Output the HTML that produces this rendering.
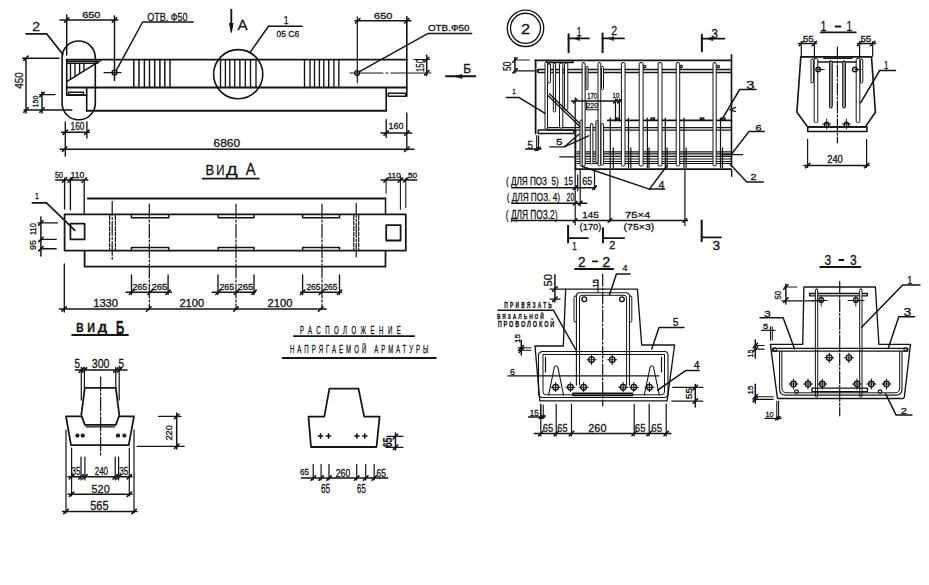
<!DOCTYPE html><html><head><meta charset="utf-8"><title>drawing</title><style>
html,body{margin:0;padding:0;background:#fff;width:929px;height:585px;overflow:hidden}
svg{display:block}
text{font-family:"Liberation Sans",sans-serif;fill:#141414;stroke:#141414}
</style></head><body>
<svg width="929" height="585" viewBox="0 0 929 585">
<g fill="none" stroke="#141414" stroke-linecap="round" stroke-linejoin="round">
<line x1="60.2" y1="20.0" x2="117.7" y2="20.0" stroke-width="1.49"/>
<line x1="64.5" y1="22.2" x2="68.9" y2="17.8" stroke-width="1.62"/>
<line x1="112.3" y1="22.2" x2="116.7" y2="17.8" stroke-width="1.62"/>
<line x1="66.7" y1="15.0" x2="66.7" y2="55.0" stroke-width="1.49"/>
<line x1="114.5" y1="16.0" x2="114.5" y2="80.4" stroke-width="1.49"/>
<text x="82.2" y="18.1" font-size="9.44" textLength="18.3" lengthAdjust="spacingAndGlyphs" font-weight="normal" stroke-width="0.3">650</text>
<text x="32.2" y="31.0" font-size="12.68" textLength="7.8" lengthAdjust="spacingAndGlyphs" font-weight="normal" stroke-width="0.3">2</text>
<polyline points="26.0,33.8 46.6,33.8 62.8,54.2" stroke-width="1.76"/>
<rect x="62.1" y="41.0" width="33.2" height="78.8" stroke-width="1.62" rx="16.5"/>
<line x1="66.7" y1="59.6" x2="406.9" y2="59.6" stroke-width="1.76"/>
<line x1="66.7" y1="87.5" x2="406.9" y2="87.5" stroke-width="1.76"/>
<line x1="66.7" y1="59.6" x2="66.7" y2="95.2" stroke-width="1.62"/>
<line x1="66.7" y1="95.2" x2="86.7" y2="95.2" stroke-width="1.49"/>
<rect x="68.6" y="92.2" width="14.9" height="2.6" stroke-width="1.35"/>
<line x1="86.7" y1="87.5" x2="86.7" y2="110.8" stroke-width="1.62"/>
<line x1="86.7" y1="110.8" x2="386.2" y2="110.8" stroke-width="1.89"/>
<line x1="386.2" y1="87.5" x2="386.2" y2="110.8" stroke-width="1.62"/>
<line x1="406.8" y1="16.8" x2="406.8" y2="96.2" stroke-width="1.62"/>
<rect x="388.2" y="93.2" width="17.4" height="3.0" stroke-width="1.35"/>
<line x1="406.8" y1="113.0" x2="406.8" y2="150.0" stroke-width="1.35"/>
<line x1="67.3" y1="61.2" x2="97.7" y2="61.2" stroke-width="1.35"/>
<line x1="67.3" y1="63.2" x2="97.7" y2="63.2" stroke-width="1.35"/>
<line x1="66.7" y1="81.6" x2="100.9" y2="60.3" stroke-width="1.49"/>
<line x1="70.5" y1="63.2" x2="70.5" y2="79.2" stroke-width="1.35"/>
<line x1="75.0" y1="63.2" x2="75.0" y2="76.4" stroke-width="1.35"/>
<line x1="79.6" y1="63.2" x2="79.6" y2="73.6" stroke-width="1.35"/>
<line x1="84.0" y1="63.2" x2="84.0" y2="70.8" stroke-width="1.35"/>
<circle cx="114.5" cy="72.6" r="2.5" stroke-width="1.35"/>
<line x1="104.0" y1="72.6" x2="121.0" y2="72.6" stroke-width="1.08"/>
<polyline points="116.3,70.3 142.6,22.0 193.2,22.0" stroke-width="1.49"/>
<text x="147.3" y="21.0" font-size="10.85" textLength="40.3" lengthAdjust="spacingAndGlyphs" font-weight="normal" stroke-width="0.3">ОТВ. Ф50</text>
<line x1="133.8" y1="59.6" x2="133.8" y2="87.5" stroke-width="1.49"/>
<line x1="139.0" y1="59.6" x2="139.0" y2="87.5" stroke-width="1.49"/>
<line x1="144.4" y1="59.6" x2="144.4" y2="87.5" stroke-width="1.49"/>
<line x1="149.5" y1="59.6" x2="149.5" y2="87.5" stroke-width="1.49"/>
<line x1="154.7" y1="59.6" x2="154.7" y2="87.5" stroke-width="1.49"/>
<line x1="159.9" y1="59.6" x2="159.9" y2="87.5" stroke-width="1.49"/>
<line x1="164.8" y1="59.6" x2="164.8" y2="87.5" stroke-width="1.49"/>
<line x1="170.0" y1="59.6" x2="170.0" y2="87.5" stroke-width="1.49"/>
<circle cx="238.2" cy="74.2" r="24.6" stroke-width="1.62"/>
<line x1="220.5" y1="59.6" x2="220.5" y2="87.5" stroke-width="1.35"/>
<line x1="225.4" y1="59.6" x2="225.4" y2="87.5" stroke-width="1.35"/>
<line x1="229.8" y1="59.6" x2="229.8" y2="87.5" stroke-width="1.35"/>
<line x1="234.7" y1="59.6" x2="234.7" y2="87.5" stroke-width="1.35"/>
<line x1="239.9" y1="59.6" x2="239.9" y2="87.5" stroke-width="1.35"/>
<line x1="245.3" y1="59.6" x2="245.3" y2="87.5" stroke-width="1.35"/>
<line x1="250.5" y1="59.6" x2="250.5" y2="87.5" stroke-width="1.35"/>
<line x1="256.0" y1="59.6" x2="256.0" y2="87.5" stroke-width="1.35"/>
<line x1="304.5" y1="59.6" x2="304.5" y2="87.5" stroke-width="1.35"/>
<line x1="310.0" y1="59.6" x2="310.0" y2="87.5" stroke-width="1.35"/>
<line x1="314.5" y1="59.6" x2="314.5" y2="87.5" stroke-width="1.35"/>
<line x1="319.4" y1="59.6" x2="319.4" y2="87.5" stroke-width="1.35"/>
<line x1="323.8" y1="59.6" x2="323.8" y2="87.5" stroke-width="1.35"/>
<line x1="328.7" y1="59.6" x2="328.7" y2="87.5" stroke-width="1.35"/>
<line x1="333.9" y1="59.6" x2="333.9" y2="87.5" stroke-width="1.35"/>
<line x1="338.8" y1="59.6" x2="338.8" y2="87.5" stroke-width="1.35"/>
<text x="283.7" y="23.7" font-size="10.70" textLength="4.8" lengthAdjust="spacingAndGlyphs" font-weight="normal" stroke-width="0.3">1</text>
<line x1="268.5" y1="26.3" x2="302.0" y2="26.3" stroke-width="1.49"/>
<text x="276.5" y="36.6" font-size="9.15" textLength="22.6" lengthAdjust="spacingAndGlyphs" font-weight="normal" stroke-width="0.3">05 С6</text>
<line x1="268.5" y1="26.3" x2="250.2" y2="52.3" stroke-width="1.49"/>
<line x1="231.3" y1="9.7" x2="231.3" y2="26.0" stroke-width="1.89"/>
<polygon points="229.6,23.5 233.0,23.5 231.3,32.3" stroke-width="1.08" fill="#141414"/>
<text x="237.5" y="30.1" font-size="15.07" textLength="10.1" lengthAdjust="spacingAndGlyphs" font-weight="normal" stroke-width="0.3">А</text>
<line x1="354.9" y1="20.8" x2="410.9" y2="20.8" stroke-width="1.49"/>
<line x1="355.5" y1="23.0" x2="359.9" y2="18.6" stroke-width="1.62"/>
<line x1="404.6" y1="23.0" x2="409.0" y2="18.6" stroke-width="1.62"/>
<line x1="357.3" y1="16.8" x2="357.3" y2="82.6" stroke-width="1.22"/>
<text x="374.0" y="18.9" font-size="8.87" textLength="18.4" lengthAdjust="spacingAndGlyphs" font-weight="normal" stroke-width="0.3">650</text>
<circle cx="357.1" cy="73.0" r="2.4" stroke-width="1.35"/>
<line x1="350.0" y1="73.0" x2="383.0" y2="73.0" stroke-width="1.08"/>
<line x1="386.0" y1="73.0" x2="388.0" y2="73.0" stroke-width="1.08"/>
<line x1="391.0" y1="73.0" x2="431.0" y2="73.0" stroke-width="1.08"/>
<polyline points="359.5,71.6 427.7,33.6 471.7,33.6" stroke-width="1.49"/>
<text x="427.9" y="30.8" font-size="8.87" textLength="41.5" lengthAdjust="spacingAndGlyphs" font-weight="normal" stroke-width="0.3">ОТВ.Ф50</text>
<line x1="426.7" y1="55.3" x2="426.7" y2="75.6" stroke-width="1.49"/>
<line x1="424.5" y1="61.7" x2="428.9" y2="57.3" stroke-width="1.62"/>
<line x1="424.5" y1="75.0" x2="428.9" y2="70.6" stroke-width="1.62"/>
<line x1="413.7" y1="59.5" x2="429.8" y2="59.5" stroke-width="1.22"/>
<text x="420.5" y="69.1" font-size="10.28" textLength="12.9" lengthAdjust="spacingAndGlyphs" text-anchor="middle" font-weight="normal" transform="rotate(-90 420.5 65.5)" stroke-width="0.3">150</text>
<line x1="445.9" y1="76.3" x2="475.2" y2="76.3" stroke-width="1.89"/>
<polygon points="455.0,76.3 462.0,74.6 462.0,78.0" stroke-width="0.81" fill="#141414"/>
<text x="463.2" y="72.8" font-size="12.82" textLength="7.9" lengthAdjust="spacingAndGlyphs" font-weight="normal" stroke-width="0.3">Б</text>
<line x1="26.0" y1="57.8" x2="26.0" y2="113.0" stroke-width="1.49"/>
<line x1="23.8" y1="60.4" x2="28.2" y2="56.0" stroke-width="1.62"/>
<line x1="23.8" y1="112.2" x2="28.2" y2="107.8" stroke-width="1.62"/>
<line x1="22.7" y1="58.2" x2="59.0" y2="58.2" stroke-width="1.35"/>
<line x1="24.0" y1="110.0" x2="71.8" y2="110.0" stroke-width="1.35"/>
<text x="19.4" y="84.3" font-size="10.85" textLength="16.5" lengthAdjust="spacingAndGlyphs" text-anchor="middle" font-weight="normal" transform="rotate(-90 19.4 80.5)" stroke-width="0.3">450</text>
<line x1="42.0" y1="92.0" x2="42.0" y2="113.0" stroke-width="1.49"/>
<line x1="39.8" y1="96.8" x2="44.2" y2="92.4" stroke-width="1.62"/>
<line x1="39.8" y1="112.2" x2="44.2" y2="107.8" stroke-width="1.62"/>
<line x1="39.5" y1="94.6" x2="55.0" y2="94.6" stroke-width="1.35"/>
<text x="35.1" y="104.1" font-size="7.32" textLength="11.9" lengthAdjust="spacingAndGlyphs" text-anchor="middle" font-weight="normal" transform="rotate(-90 35.1 101.5)" stroke-width="0.3">150</text>
<line x1="61.5" y1="132.2" x2="89.4" y2="132.2" stroke-width="1.49"/>
<line x1="63.1" y1="134.4" x2="67.5" y2="130.0" stroke-width="1.62"/>
<line x1="84.7" y1="134.4" x2="89.1" y2="130.0" stroke-width="1.62"/>
<line x1="65.3" y1="121.8" x2="65.3" y2="156.3" stroke-width="1.35"/>
<line x1="86.9" y1="121.8" x2="86.9" y2="138.0" stroke-width="1.35"/>
<text x="70.5" y="129.8" font-size="10.28" textLength="13.9" lengthAdjust="spacingAndGlyphs" font-weight="normal" stroke-width="0.3">160</text>
<line x1="380.9" y1="133.1" x2="411.7" y2="133.1" stroke-width="1.49"/>
<line x1="384.0" y1="135.3" x2="388.4" y2="130.9" stroke-width="1.62"/>
<line x1="404.6" y1="135.3" x2="409.0" y2="130.9" stroke-width="1.62"/>
<line x1="386.2" y1="119.6" x2="386.2" y2="137.6" stroke-width="1.35"/>
<text x="388.6" y="129.2" font-size="9.86" textLength="14.8" lengthAdjust="spacingAndGlyphs" font-weight="normal" stroke-width="0.3">160</text>
<line x1="60.4" y1="149.2" x2="414.0" y2="149.2" stroke-width="1.49"/>
<line x1="62.4" y1="151.4" x2="66.8" y2="147.0" stroke-width="1.62"/>
<line x1="404.6" y1="151.4" x2="409.0" y2="147.0" stroke-width="1.62"/>
<text x="213.6" y="147.0" font-size="11.27" textLength="26.5" lengthAdjust="spacingAndGlyphs" font-weight="normal" stroke-width="0.3">6860</text>
<text x="205.4" y="175.2" font-size="13.94" textLength="8.7" lengthAdjust="spacingAndGlyphs" font-weight="normal" stroke-width="0.3">В</text>
<text x="216.2" y="175.2" font-size="13.94" textLength="8.3" lengthAdjust="spacingAndGlyphs" font-weight="normal" stroke-width="0.3">И</text>
<text x="226.1" y="175.2" font-size="12.68" textLength="11.6" lengthAdjust="spacingAndGlyphs" font-weight="normal" stroke-width="0.3">Д</text>
<text x="245.7" y="174.8" font-size="16.34" textLength="9.8" lengthAdjust="spacingAndGlyphs" font-weight="normal" stroke-width="0.3">А</text>
<line x1="202.6" y1="178.7" x2="258.9" y2="178.7" stroke-width="1.76"/>
<line x1="55.5" y1="180.0" x2="87.8" y2="180.0" stroke-width="1.49"/>
<line x1="62.4" y1="182.2" x2="66.8" y2="177.8" stroke-width="1.62"/>
<line x1="68.2" y1="182.2" x2="72.6" y2="177.8" stroke-width="1.62"/>
<line x1="82.0" y1="182.2" x2="86.4" y2="177.8" stroke-width="1.62"/>
<text x="55.0" y="178.1" font-size="8.17" textLength="7.9" lengthAdjust="spacingAndGlyphs" font-weight="normal" stroke-width="0.3">50</text>
<text x="70.5" y="178.1" font-size="8.17" textLength="13.8" lengthAdjust="spacingAndGlyphs" font-weight="normal" stroke-width="0.3">110</text>
<line x1="64.6" y1="178.0" x2="64.6" y2="209.0" stroke-width="1.35"/>
<line x1="70.4" y1="178.0" x2="70.4" y2="209.7" stroke-width="1.35"/>
<line x1="84.2" y1="180.7" x2="84.2" y2="213.0" stroke-width="1.35"/>
<line x1="381.1" y1="180.0" x2="416.8" y2="180.0" stroke-width="1.49"/>
<line x1="383.9" y1="182.2" x2="388.3" y2="177.8" stroke-width="1.62"/>
<line x1="398.2" y1="182.2" x2="402.6" y2="177.8" stroke-width="1.62"/>
<line x1="403.6" y1="182.2" x2="408.0" y2="177.8" stroke-width="1.62"/>
<text x="387.7" y="177.7" font-size="8.03" textLength="13.0" lengthAdjust="spacingAndGlyphs" font-weight="normal" stroke-width="0.3">110</text>
<text x="407.9" y="177.7" font-size="8.03" textLength="9.2" lengthAdjust="spacingAndGlyphs" font-weight="normal" stroke-width="0.3">50</text>
<line x1="386.1" y1="178.0" x2="386.1" y2="193.2" stroke-width="1.08"/>
<line x1="385.5" y1="198.5" x2="385.5" y2="214.6" stroke-width="1.49"/>
<line x1="400.4" y1="176.0" x2="400.4" y2="209.2" stroke-width="1.08"/>
<line x1="405.8" y1="178.0" x2="405.8" y2="207.8" stroke-width="1.08"/>
<line x1="87.8" y1="198.5" x2="385.5" y2="198.5" stroke-width="1.76"/>
<rect x="64.6" y="214.3" width="341.2" height="36.4" stroke-width="1.76"/>
<polyline points="84.6,250.7 84.6,266.6 385.5,266.6 385.5,250.7" stroke-width="1.76"/>
<rect x="70.4" y="223.6" width="14.2" height="15.8" stroke-width="1.76"/>
<rect x="386.2" y="225.1" width="14.4" height="15.4" stroke-width="1.76"/>
<polyline points="131.4,214.6 131.4,217.8 168.8,217.8 168.8,214.6" stroke-width="1.49"/>
<polyline points="131.4,250.7 131.4,247.6 168.8,247.6 168.8,250.7" stroke-width="1.49"/>
<polyline points="218.2,214.6 218.2,217.8 254.0,217.8 254.0,214.6" stroke-width="1.49"/>
<polyline points="218.2,250.7 218.2,247.6 254.0,247.6 254.0,250.7" stroke-width="1.49"/>
<polyline points="302.6,214.6 302.6,217.8 339.5,217.8 339.5,214.6" stroke-width="1.49"/>
<polyline points="302.6,250.7 302.6,247.6 339.5,247.6 339.5,250.7" stroke-width="1.49"/>
<line x1="149.3" y1="204.0" x2="149.3" y2="309.2" stroke-width="1.22" stroke-dasharray="14,2,2,2"/>
<line x1="236.0" y1="204.0" x2="236.0" y2="309.2" stroke-width="1.22" stroke-dasharray="14,2,2,2"/>
<line x1="322.0" y1="204.0" x2="322.0" y2="309.2" stroke-width="1.22" stroke-dasharray="14,2,2,2"/>
<line x1="109.6" y1="215.5" x2="109.6" y2="250.0" stroke-width="1.22" stroke-dasharray="4,1.5"/>
<line x1="115.4" y1="215.5" x2="115.4" y2="250.0" stroke-width="1.22" stroke-dasharray="4,1.5"/>
<line x1="112.2" y1="201.3" x2="112.2" y2="261.0" stroke-width="1.22" stroke-dasharray="14,2,2,2"/>
<line x1="353.8" y1="215.5" x2="353.8" y2="250.0" stroke-width="1.22" stroke-dasharray="4,1.5"/>
<line x1="358.7" y1="215.5" x2="358.7" y2="250.0" stroke-width="1.22" stroke-dasharray="4,1.5"/>
<line x1="356.2" y1="203.3" x2="356.2" y2="256.8" stroke-width="1.22" stroke-dasharray="14,2,2,2"/>
<text x="34.9" y="198.5" font-size="9.86" textLength="4.0" lengthAdjust="spacingAndGlyphs" font-weight="normal" stroke-width="0.3">1</text>
<polyline points="32.3,202.9 46.5,202.9 74.9,230.4" stroke-width="1.62"/>
<line x1="40.9" y1="217.0" x2="40.9" y2="255.9" stroke-width="1.49"/>
<line x1="38.7" y1="225.1" x2="43.1" y2="220.7" stroke-width="1.62"/>
<line x1="38.7" y1="241.6" x2="43.1" y2="237.2" stroke-width="1.62"/>
<line x1="38.7" y1="250.9" x2="43.1" y2="246.5" stroke-width="1.62"/>
<line x1="38.0" y1="222.9" x2="57.5" y2="222.9" stroke-width="1.35"/>
<line x1="41.3" y1="239.4" x2="56.2" y2="239.4" stroke-width="1.35"/>
<line x1="41.3" y1="248.7" x2="56.2" y2="248.7" stroke-width="1.35"/>
<text x="32.4" y="232.5" font-size="9.58" textLength="11.9" lengthAdjust="spacingAndGlyphs" text-anchor="middle" font-weight="normal" transform="rotate(-90 32.4 229.1)" stroke-width="0.3">110</text>
<text x="32.4" y="248.3" font-size="9.58" textLength="10.0" lengthAdjust="spacingAndGlyphs" text-anchor="middle" font-weight="normal" transform="rotate(-90 32.4 244.9)" stroke-width="0.3">95</text>
<line x1="64.3" y1="264.0" x2="64.3" y2="312.0" stroke-width="1.35"/>
<line x1="126.0" y1="292.3" x2="171.3" y2="292.3" stroke-width="1.49"/>
<line x1="131.5" y1="275.0" x2="131.5" y2="294.5" stroke-width="1.35"/>
<line x1="129.3" y1="294.5" x2="133.7" y2="290.1" stroke-width="1.62"/>
<line x1="168.1" y1="275.0" x2="168.1" y2="294.5" stroke-width="1.35"/>
<line x1="165.9" y1="294.5" x2="170.3" y2="290.1" stroke-width="1.62"/>
<line x1="147.9" y1="294.5" x2="152.3" y2="290.1" stroke-width="1.62"/>
<text x="132.4" y="290.3" font-size="9.58" textLength="14.8" lengthAdjust="spacingAndGlyphs" font-weight="normal" stroke-width="0.3">265</text>
<text x="151.4" y="290.3" font-size="9.58" textLength="16.0" lengthAdjust="spacingAndGlyphs" font-weight="normal" stroke-width="0.3">265</text>
<line x1="212.2" y1="292.3" x2="255.3" y2="292.3" stroke-width="1.49"/>
<line x1="218.0" y1="275.0" x2="218.0" y2="294.5" stroke-width="1.35"/>
<line x1="215.8" y1="294.5" x2="220.2" y2="290.1" stroke-width="1.62"/>
<line x1="254.0" y1="275.0" x2="254.0" y2="294.5" stroke-width="1.35"/>
<line x1="251.8" y1="294.5" x2="256.2" y2="290.1" stroke-width="1.62"/>
<line x1="234.1" y1="294.5" x2="238.5" y2="290.1" stroke-width="1.62"/>
<text x="219.4" y="290.3" font-size="9.58" textLength="14.8" lengthAdjust="spacingAndGlyphs" font-weight="normal" stroke-width="0.3">265</text>
<text x="237.4" y="290.3" font-size="9.58" textLength="16.0" lengthAdjust="spacingAndGlyphs" font-weight="normal" stroke-width="0.3">265</text>
<line x1="300.5" y1="292.3" x2="341.4" y2="292.3" stroke-width="1.49"/>
<line x1="302.6" y1="275.0" x2="302.6" y2="294.5" stroke-width="1.35"/>
<line x1="300.4" y1="294.5" x2="304.8" y2="290.1" stroke-width="1.62"/>
<line x1="339.5" y1="275.0" x2="339.5" y2="294.5" stroke-width="1.35"/>
<line x1="337.3" y1="294.5" x2="341.7" y2="290.1" stroke-width="1.62"/>
<line x1="319.2" y1="294.5" x2="323.6" y2="290.1" stroke-width="1.62"/>
<text x="306.4" y="290.3" font-size="9.58" textLength="14.0" lengthAdjust="spacingAndGlyphs" font-weight="normal" stroke-width="0.3">265</text>
<text x="323.4" y="290.3" font-size="9.58" textLength="14.0" lengthAdjust="spacingAndGlyphs" font-weight="normal" stroke-width="0.3">265</text>
<line x1="59.4" y1="309.1" x2="326.3" y2="309.1" stroke-width="1.49"/>
<line x1="61.9" y1="311.3" x2="66.3" y2="306.9" stroke-width="1.62"/>
<line x1="146.5" y1="311.3" x2="150.9" y2="306.9" stroke-width="1.62"/>
<line x1="233.7" y1="311.3" x2="238.1" y2="306.9" stroke-width="1.62"/>
<line x1="318.5" y1="311.3" x2="322.9" y2="306.9" stroke-width="1.62"/>
<text x="93.2" y="307.0" font-size="10.56" textLength="24.8" lengthAdjust="spacingAndGlyphs" font-weight="normal" stroke-width="0.3">1330</text>
<text x="179.4" y="307.0" font-size="10.56" textLength="24.7" lengthAdjust="spacingAndGlyphs" font-weight="normal" stroke-width="0.3">2100</text>
<text x="267.6" y="307.0" font-size="10.56" textLength="24.8" lengthAdjust="spacingAndGlyphs" font-weight="normal" stroke-width="0.3">2100</text>
<text x="76.2" y="332.3" font-size="12.68" textLength="7.4" lengthAdjust="spacingAndGlyphs" font-weight="bold" stroke-width="0.3">В</text>
<text x="87.2" y="332.3" font-size="12.68" textLength="7.7" lengthAdjust="spacingAndGlyphs" font-weight="bold" stroke-width="0.3">И</text>
<text x="97.8" y="332.3" font-size="11.13" textLength="9.4" lengthAdjust="spacingAndGlyphs" font-weight="bold" stroke-width="0.3">Д</text>
<text x="115.9" y="333.5" font-size="17.61" textLength="8.2" lengthAdjust="spacingAndGlyphs" font-weight="bold" stroke-width="0.3">Б</text>
<line x1="72.2" y1="335.0" x2="127.9" y2="335.0" stroke-width="2.03"/>
<line x1="75.3" y1="370.1" x2="127.0" y2="370.1" stroke-width="1.49"/>
<line x1="79.1" y1="372.3" x2="83.5" y2="367.9" stroke-width="1.62"/>
<line x1="82.2" y1="372.3" x2="86.6" y2="367.9" stroke-width="1.62"/>
<line x1="113.6" y1="372.3" x2="118.0" y2="367.9" stroke-width="1.62"/>
<line x1="117.0" y1="372.3" x2="121.4" y2="367.9" stroke-width="1.62"/>
<text x="74.6" y="367.5" font-size="11.97" textLength="5.5" lengthAdjust="spacingAndGlyphs" font-weight="normal" stroke-width="0.3">5</text>
<text x="91.8" y="367.5" font-size="11.97" textLength="17.7" lengthAdjust="spacingAndGlyphs" font-weight="normal" stroke-width="0.3">300</text>
<text x="118.5" y="367.5" font-size="11.97" textLength="5.5" lengthAdjust="spacingAndGlyphs" font-weight="normal" stroke-width="0.3">5</text>
<line x1="81.3" y1="367.0" x2="81.3" y2="400.0" stroke-width="1.22"/>
<line x1="84.4" y1="367.0" x2="84.4" y2="388.0" stroke-width="1.22"/>
<line x1="115.8" y1="367.0" x2="115.8" y2="388.0" stroke-width="1.22"/>
<line x1="119.2" y1="367.0" x2="119.2" y2="400.0" stroke-width="1.22"/>
<polyline points="81.3,415.0 84.8,387.9 115.8,387.9 119.3,415.0" stroke-width="1.76"/>
<polyline points="81.7,416.4 84.9,424.9 115.8,424.9 119.0,416.4" stroke-width="1.76"/>
<polyline points="81.7,416.4 66.0,416.4 71.0,445.2 128.7,445.2 134.0,416.4 119.0,416.4" stroke-width="1.76"/>
<circle cx="77.4" cy="435.6" r="1.6" stroke-width="1.08" fill="#141414"/>
<circle cx="82.7" cy="435.6" r="1.6" stroke-width="1.08" fill="#141414"/>
<circle cx="118.0" cy="435.6" r="1.6" stroke-width="1.08" fill="#141414"/>
<circle cx="124.4" cy="435.6" r="1.6" stroke-width="1.08" fill="#141414"/>
<line x1="86.0" y1="426.8" x2="114.6" y2="426.8" stroke-width="1.22"/>
<line x1="100.6" y1="377.0" x2="100.6" y2="457.0" stroke-width="1.22" stroke-dasharray="14,2,2,2"/>
<line x1="176.7" y1="413.0" x2="176.7" y2="449.0" stroke-width="1.49"/>
<line x1="174.5" y1="418.6" x2="178.9" y2="414.2" stroke-width="1.62"/>
<line x1="174.5" y1="448.5" x2="178.9" y2="444.1" stroke-width="1.62"/>
<line x1="158.6" y1="416.4" x2="181.0" y2="416.4" stroke-width="1.35"/>
<line x1="137.2" y1="446.3" x2="184.2" y2="446.3" stroke-width="1.35"/>
<text x="169.0" y="436.2" font-size="9.86" textLength="15.5" lengthAdjust="spacingAndGlyphs" text-anchor="middle" font-weight="normal" transform="rotate(-90 169.0 432.8)" stroke-width="0.3">220</text>
<line x1="68.0" y1="476.8" x2="132.0" y2="476.8" stroke-width="1.49"/>
<line x1="69.4" y1="479.0" x2="73.8" y2="474.6" stroke-width="1.62"/>
<line x1="78.8" y1="479.0" x2="83.2" y2="474.6" stroke-width="1.62"/>
<line x1="82.7" y1="479.0" x2="87.1" y2="474.6" stroke-width="1.62"/>
<line x1="113.0" y1="479.0" x2="117.4" y2="474.6" stroke-width="1.62"/>
<line x1="116.4" y1="479.0" x2="120.8" y2="474.6" stroke-width="1.62"/>
<line x1="127.1" y1="479.0" x2="131.5" y2="474.6" stroke-width="1.62"/>
<line x1="81.0" y1="457.0" x2="81.0" y2="480.0" stroke-width="1.22"/>
<line x1="84.9" y1="457.0" x2="84.9" y2="480.0" stroke-width="1.22"/>
<line x1="115.2" y1="457.0" x2="115.2" y2="480.0" stroke-width="1.22"/>
<line x1="118.6" y1="457.0" x2="118.6" y2="480.0" stroke-width="1.22"/>
<line x1="71.6" y1="448.0" x2="71.6" y2="496.0" stroke-width="1.22"/>
<line x1="129.3" y1="448.0" x2="129.3" y2="496.0" stroke-width="1.22"/>
<text x="71.6" y="475.4" font-size="10.85" textLength="8.8" lengthAdjust="spacingAndGlyphs" font-weight="normal" stroke-width="0.3">35</text>
<text x="94.7" y="475.4" font-size="10.85" textLength="13.4" lengthAdjust="spacingAndGlyphs" font-weight="normal" stroke-width="0.3">240</text>
<text x="119.3" y="475.4" font-size="10.85" textLength="9.1" lengthAdjust="spacingAndGlyphs" font-weight="normal" stroke-width="0.3">35</text>
<line x1="68.0" y1="494.3" x2="132.0" y2="494.3" stroke-width="1.49"/>
<line x1="69.4" y1="496.5" x2="73.8" y2="492.1" stroke-width="1.62"/>
<line x1="127.1" y1="496.5" x2="131.5" y2="492.1" stroke-width="1.62"/>
<text x="91.6" y="493.0" font-size="11.83" textLength="18.1" lengthAdjust="spacingAndGlyphs" font-weight="normal" stroke-width="0.3">520</text>
<line x1="62.5" y1="511.4" x2="137.0" y2="511.4" stroke-width="1.49"/>
<line x1="63.8" y1="513.6" x2="68.2" y2="509.2" stroke-width="1.62"/>
<line x1="131.8" y1="513.6" x2="136.2" y2="509.2" stroke-width="1.62"/>
<line x1="66.0" y1="430.0" x2="66.0" y2="513.0" stroke-width="1.22"/>
<line x1="134.0" y1="430.0" x2="134.0" y2="513.0" stroke-width="1.22"/>
<text x="90.3" y="510.0" font-size="11.97" textLength="18.2" lengthAdjust="spacingAndGlyphs" font-weight="normal" stroke-width="0.3">565</text>
<text transform="translate(299.9 334.4) scale(0.55 1)" x="0" y="0" font-size="11.14" textLength="183.5" lengthAdjust="spacing" font-weight="normal" stroke-width="0.3">РАСПОЛОЖЕНИЕ</text>
<line x1="293.8" y1="336.1" x2="414.3" y2="336.1" stroke-width="1.76"/>
<text transform="translate(289.9 353.3) scale(0.55 1)" x="0" y="0" font-size="11.00" textLength="138.9" lengthAdjust="spacing" font-weight="normal" stroke-width="0.3">НАПРЯГАЕМОЙ</text>
<text transform="translate(374.3 353.3) scale(0.55 1)" x="0" y="0" font-size="11.00" textLength="98.2" lengthAdjust="spacing" font-weight="normal" stroke-width="0.3">АРМАТУРЫ</text>
<line x1="282.6" y1="358.0" x2="435.9" y2="358.0" stroke-width="1.76"/>
<polygon points="329.4,388.6 358.5,388.6 364.2,416.7 379.6,416.7 376.5,447.0 311.0,447.0 308.5,416.7 324.3,416.7" stroke-width="1.76"/>
<line x1="318.3" y1="436.0" x2="322.7" y2="436.0" stroke-width="1.49"/>
<line x1="320.5" y1="433.8" x2="320.5" y2="438.2" stroke-width="1.49"/>
<line x1="326.3" y1="436.0" x2="330.7" y2="436.0" stroke-width="1.49"/>
<line x1="328.5" y1="433.8" x2="328.5" y2="438.2" stroke-width="1.49"/>
<line x1="354.7" y1="436.0" x2="359.1" y2="436.0" stroke-width="1.49"/>
<line x1="356.9" y1="433.8" x2="356.9" y2="438.2" stroke-width="1.49"/>
<line x1="362.6" y1="436.0" x2="367.0" y2="436.0" stroke-width="1.49"/>
<line x1="364.8" y1="433.8" x2="364.8" y2="438.2" stroke-width="1.49"/>
<line x1="395.5" y1="433.0" x2="395.5" y2="450.0" stroke-width="1.49"/>
<line x1="393.3" y1="438.6" x2="397.7" y2="434.2" stroke-width="1.62"/>
<line x1="393.3" y1="449.5" x2="397.7" y2="445.1" stroke-width="1.62"/>
<line x1="387.0" y1="436.4" x2="403.0" y2="436.4" stroke-width="1.22"/>
<line x1="386.0" y1="447.3" x2="403.0" y2="447.3" stroke-width="1.22"/>
<text x="388.2" y="446.6" font-size="11.97" textLength="9.8" lengthAdjust="spacingAndGlyphs" text-anchor="middle" font-weight="bold" transform="rotate(-90 388.2 442.4)" stroke-width="0.3">65</text>
<line x1="301.3" y1="478.1" x2="387.8" y2="478.1" stroke-width="1.49"/>
<line x1="311.0" y1="480.3" x2="315.4" y2="475.9" stroke-width="1.62"/>
<line x1="318.9" y1="480.3" x2="323.3" y2="475.9" stroke-width="1.62"/>
<line x1="326.8" y1="480.3" x2="331.2" y2="475.9" stroke-width="1.62"/>
<line x1="354.5" y1="480.3" x2="358.9" y2="475.9" stroke-width="1.62"/>
<line x1="363.5" y1="480.3" x2="367.9" y2="475.9" stroke-width="1.62"/>
<line x1="372.0" y1="480.3" x2="376.4" y2="475.9" stroke-width="1.62"/>
<line x1="313.2" y1="464.5" x2="313.2" y2="480.0" stroke-width="1.22"/>
<line x1="321.1" y1="464.5" x2="321.1" y2="480.0" stroke-width="1.22"/>
<line x1="329.0" y1="464.5" x2="329.0" y2="480.0" stroke-width="1.22"/>
<line x1="356.7" y1="464.5" x2="356.7" y2="480.0" stroke-width="1.22"/>
<line x1="365.7" y1="464.5" x2="365.7" y2="480.0" stroke-width="1.22"/>
<line x1="374.2" y1="464.5" x2="374.2" y2="480.0" stroke-width="1.22"/>
<text x="300.1" y="475.3" font-size="9.58" textLength="8.9" lengthAdjust="spacingAndGlyphs" font-weight="normal" stroke-width="0.3">65</text>
<text x="335.7" y="477.0" font-size="10.42" textLength="14.6" lengthAdjust="spacingAndGlyphs" font-weight="normal" stroke-width="0.3">260</text>
<text x="376.4" y="477.0" font-size="10.42" textLength="9.5" lengthAdjust="spacingAndGlyphs" font-weight="normal" stroke-width="0.3">65</text>
<text x="320.9" y="492.8" font-size="11.97" textLength="9.2" lengthAdjust="spacingAndGlyphs" font-weight="normal" stroke-width="0.3">65</text>
<text x="357.1" y="492.8" font-size="11.97" textLength="8.6" lengthAdjust="spacingAndGlyphs" font-weight="normal" stroke-width="0.3">65</text>
<circle cx="525.5" cy="28.3" r="18.2" stroke-width="1.35"/>
<circle cx="525.5" cy="28.3" r="15" stroke-width="1.35"/>
<text x="520.9" y="34.2" font-size="15.49" textLength="9.1" lengthAdjust="spacingAndGlyphs" font-weight="normal" stroke-width="0.3">2</text>
<line x1="568.6" y1="34.2" x2="568.6" y2="52.3" stroke-width="2.03"/>
<line x1="568.6" y1="38.4" x2="589.0" y2="38.4" stroke-width="1.76"/>
<polygon points="574.6,38.4 579.6,36.6 579.6,40.2" stroke-width="0.68" fill="#141414"/>
<text x="576.7" y="35.5" font-size="12.68" textLength="4.7" lengthAdjust="spacingAndGlyphs" font-weight="normal" stroke-width="0.3">1</text>
<line x1="602.6" y1="33.6" x2="602.6" y2="52.3" stroke-width="2.03"/>
<line x1="602.6" y1="38.4" x2="624.0" y2="38.4" stroke-width="1.76"/>
<polygon points="608.6,38.4 613.6,36.6 613.6,40.2" stroke-width="0.68" fill="#141414"/>
<text x="611.2" y="34.7" font-size="12.82" textLength="5.9" lengthAdjust="spacingAndGlyphs" font-weight="normal" stroke-width="0.3">2</text>
<line x1="701.9" y1="34.7" x2="701.9" y2="51.2" stroke-width="2.03"/>
<line x1="701.9" y1="38.6" x2="724.5" y2="38.6" stroke-width="1.76"/>
<polygon points="707.9,38.6 712.9,36.8 712.9,40.4" stroke-width="0.68" fill="#141414"/>
<text x="711.6" y="37.7" font-size="12.82" textLength="6.4" lengthAdjust="spacingAndGlyphs" font-weight="normal" stroke-width="0.3">3</text>
<line x1="515.0" y1="57.5" x2="515.0" y2="73.0" stroke-width="1.49"/>
<line x1="512.8" y1="62.2" x2="517.2" y2="57.8" stroke-width="1.62"/>
<line x1="512.8" y1="73.0" x2="517.2" y2="68.6" stroke-width="1.62"/>
<line x1="515.7" y1="60.0" x2="529.2" y2="60.0" stroke-width="1.22"/>
<line x1="515.7" y1="70.8" x2="537.6" y2="70.8" stroke-width="1.22"/>
<text x="507.1" y="69.9" font-size="10.42" textLength="9.4" lengthAdjust="spacingAndGlyphs" text-anchor="middle" font-weight="normal" transform="rotate(-90 507.1 66.2)" stroke-width="0.3">50</text>
<line x1="535.2" y1="60.3" x2="731.5" y2="60.3" stroke-width="1.76"/>
<line x1="535.6" y1="60.3" x2="535.6" y2="133.5" stroke-width="1.76"/>
<line x1="731.5" y1="54.8" x2="731.5" y2="166.5" stroke-width="1.62"/>
<line x1="731.7" y1="169.7" x2="731.7" y2="176.2" stroke-width="1.35"/>
<line x1="575.5" y1="130.0" x2="575.5" y2="169.2" stroke-width="1.62"/>
<line x1="575.5" y1="169.2" x2="731.0" y2="169.2" stroke-width="1.76"/>
<rect x="546.8" y="60.8" width="26.3" height="1.8" stroke-width="1.22"/>
<line x1="538.2" y1="69.6" x2="731.5" y2="69.6" stroke-width="1.49"/>
<line x1="538.2" y1="72.4" x2="731.5" y2="72.4" stroke-width="1.49"/>
<line x1="538.2" y1="69.6" x2="538.2" y2="72.4" stroke-width="1.49"/>
<line x1="607.7" y1="120.3" x2="731.5" y2="120.3" stroke-width="1.76"/>
<line x1="547.7" y1="127.6" x2="731.5" y2="127.6" stroke-width="1.35"/>
<line x1="547.7" y1="130.1" x2="731.5" y2="130.1" stroke-width="1.35"/>
<rect x="538.2" y="130.0" width="35.7" height="3.5" stroke-width="1.35"/>
<line x1="577.0" y1="151.9" x2="731.5" y2="151.9" stroke-width="1.22"/>
<line x1="577.0" y1="153.8" x2="731.5" y2="153.8" stroke-width="1.22"/>
<line x1="577.0" y1="156.4" x2="731.5" y2="156.4" stroke-width="1.22"/>
<line x1="577.0" y1="159.0" x2="731.5" y2="159.0" stroke-width="1.22"/>
<line x1="577.0" y1="161.5" x2="731.5" y2="161.5" stroke-width="1.22"/>
<line x1="577.0" y1="163.5" x2="731.5" y2="163.5" stroke-width="1.22"/>
<rect x="545.0" y="62.0" width="2.5" height="67.2" rx="1.2" stroke-width="1.0" fill="#fff"/>
<rect x="547.7" y="63.8" width="2.8" height="19.0" rx="1.2" stroke-width="1.0" fill="#fff"/>
<rect x="553.3" y="63.0" width="2.3" height="49.0" rx="1.2" stroke-width="1.0" fill="#fff"/>
<rect x="559.5" y="63.0" width="3.3" height="65.0" rx="1.2" stroke-width="1.0" fill="#fff"/>
<rect x="564.5" y="63.0" width="3.3" height="47.0" rx="1.2" stroke-width="1.0" fill="#fff"/>
<line x1="547.7" y1="95.2" x2="579.5" y2="126.2" stroke-width="1.35"/>
<line x1="549.5" y1="93.8" x2="581.0" y2="124.8" stroke-width="1.35"/>
<rect x="582.1" y="62.6" width="3.0" height="103.4" rx="1.2" stroke-width="1.0" fill="#fff"/>
<rect x="598.0" y="62.6" width="2.8" height="103.4" rx="1.2" stroke-width="1.0" fill="#fff"/>
<rect x="621.4" y="62.6" width="3.6" height="103.4" rx="1.2" stroke-width="1.0" fill="#fff"/>
<rect x="639.2" y="62.6" width="3.9" height="103.4" rx="1.2" stroke-width="1.0" fill="#fff"/>
<rect x="658.1" y="62.6" width="3.9" height="103.4" rx="1.2" stroke-width="1.0" fill="#fff"/>
<rect x="676.2" y="62.6" width="3.5" height="103.4" rx="1.2" stroke-width="1.0" fill="#fff"/>
<rect x="713.0" y="62.6" width="3.2" height="103.4" rx="1.2" stroke-width="1.0" fill="#fff"/>
<rect x="586.0" y="66.4" width="2.0" height="23.3" rx="1.2" stroke-width="1.0" fill="#fff"/>
<rect x="601.5" y="66.4" width="2.0" height="23.3" rx="1.2" stroke-width="1.0" fill="#fff"/>
<rect x="580.0" y="120.0" width="2.1" height="46.0" rx="1.2" stroke-width="1.0" fill="#fff"/>
<rect x="590.3" y="123.6" width="2.6" height="40.4" rx="1.2" stroke-width="1.0" fill="#fff"/>
<rect x="595.9" y="120.5" width="2.1" height="42.5" rx="1.2" stroke-width="1.0" fill="#fff"/>
<rect x="601.0" y="123.6" width="2.6" height="41.4" rx="1.2" stroke-width="1.0" fill="#fff"/>
<line x1="610.3" y1="118.2" x2="610.3" y2="167.4" stroke-width="1.22"/>
<line x1="628.5" y1="118.2" x2="628.5" y2="167.4" stroke-width="1.22"/>
<line x1="647.4" y1="118.2" x2="647.4" y2="167.4" stroke-width="1.22"/>
<line x1="665.3" y1="118.2" x2="665.3" y2="167.4" stroke-width="1.22"/>
<line x1="684.0" y1="118.2" x2="684.0" y2="167.4" stroke-width="1.22"/>
<line x1="720.5" y1="118.2" x2="720.5" y2="167.4" stroke-width="1.22"/>
<line x1="613.3" y1="147.9" x2="613.3" y2="167.4" stroke-width="1.22"/>
<line x1="630.8" y1="147.9" x2="630.8" y2="167.4" stroke-width="1.22"/>
<line x1="649.0" y1="147.9" x2="649.0" y2="167.4" stroke-width="1.22"/>
<line x1="667.1" y1="147.9" x2="667.1" y2="167.4" stroke-width="1.22"/>
<line x1="686.1" y1="147.9" x2="686.1" y2="167.4" stroke-width="1.22"/>
<line x1="722.5" y1="147.9" x2="722.5" y2="167.4" stroke-width="1.22"/>
<circle cx="644.6" cy="66.6" r="1.2" stroke-width="1.22"/>
<circle cx="681.2" cy="66.6" r="1.2" stroke-width="1.22"/>
<circle cx="718.3" cy="66.6" r="1.2" stroke-width="1.22"/>
<rect x="615.4" y="117.8" width="1.2" height="1.8" stroke-width="1.08"/>
<rect x="617.9" y="117.8" width="1.2" height="1.8" stroke-width="1.08"/>
<rect x="650.9" y="117.8" width="1.2" height="1.8" stroke-width="1.08"/>
<rect x="653.4" y="117.8" width="1.2" height="1.8" stroke-width="1.08"/>
<rect x="700.2" y="117.8" width="1.2" height="1.8" stroke-width="1.08"/>
<rect x="702.7" y="117.8" width="1.2" height="1.8" stroke-width="1.08"/>
<rect x="721.4" y="117.8" width="1.2" height="1.8" stroke-width="1.08"/>
<rect x="723.9" y="117.8" width="1.2" height="1.8" stroke-width="1.08"/>
<text x="512.3" y="94.4" font-size="7.89" textLength="3.6" lengthAdjust="spacingAndGlyphs" font-weight="normal" stroke-width="0.3">1</text>
<polyline points="506.3,97.6 519.2,97.6 545.0,113.3" stroke-width="1.49"/>
<text x="555.9" y="145.0" font-size="9.86" textLength="6.5" lengthAdjust="spacingAndGlyphs" font-weight="normal" stroke-width="0.3">5</text>
<polyline points="549.9,146.8 564.4,146.8 579.0,134.2" stroke-width="1.35"/>
<line x1="564.4" y1="146.8" x2="588.7" y2="135.8" stroke-width="1.35"/>
<text x="527.5" y="148.6" font-size="10.00" textLength="5.4" lengthAdjust="spacingAndGlyphs" font-weight="normal" stroke-width="0.3">5</text>
<line x1="525.7" y1="148.9" x2="541.0" y2="148.9" stroke-width="1.49"/>
<line x1="536.7" y1="135.8" x2="536.7" y2="150.0" stroke-width="1.22"/>
<line x1="535.1" y1="150.5" x2="538.3" y2="147.3" stroke-width="1.62"/>
<line x1="538.6" y1="135.8" x2="538.6" y2="150.0" stroke-width="1.22"/>
<line x1="537.0" y1="150.5" x2="540.2" y2="147.3" stroke-width="1.62"/>
<line x1="559.6" y1="156.8" x2="576.0" y2="156.8" stroke-width="1.22"/>
<line x1="571.3" y1="101.1" x2="621.5" y2="101.1" stroke-width="1.49"/>
<line x1="573.4" y1="102.9" x2="577.0" y2="99.3" stroke-width="1.62"/>
<line x1="613.7" y1="102.9" x2="617.3" y2="99.3" stroke-width="1.62"/>
<line x1="617.6" y1="102.9" x2="621.2" y2="99.3" stroke-width="1.62"/>
<line x1="575.2" y1="97.8" x2="575.2" y2="225.0" stroke-width="1.22"/>
<text x="587.2" y="98.6" font-size="9.01" textLength="10.0" lengthAdjust="spacingAndGlyphs" font-weight="normal" stroke-width="0.3">170</text>
<text x="586.6" y="108.1" font-size="7.32" textLength="11.3" lengthAdjust="spacingAndGlyphs" font-weight="normal" stroke-width="0.3">220</text>
<polyline points="586.4,102.0 586.4,109.8 598.0,109.8" stroke-width="1.08"/>
<text x="612.5" y="98.1" font-size="7.32" textLength="6.8" lengthAdjust="spacingAndGlyphs" font-weight="normal" stroke-width="0.3">10</text>
<line x1="615.5" y1="99.0" x2="615.5" y2="121.0" stroke-width="1.22"/>
<line x1="619.4" y1="99.0" x2="619.4" y2="121.0" stroke-width="1.22"/>
<text x="746.2" y="88.5" font-size="10.14" textLength="8.2" lengthAdjust="spacingAndGlyphs" font-weight="normal" stroke-width="0.3">3</text>
<polyline points="756.1,89.5 739.7,89.5 723.2,117.3" stroke-width="1.49"/>
<polyline points="735.6,107.3 730.0,109.8 735.3,111.4" stroke-width="1.35"/>
<text x="755.5" y="130.6" font-size="8.73" textLength="6.1" lengthAdjust="spacingAndGlyphs" font-weight="normal" stroke-width="0.3">6</text>
<polyline points="764.3,131.6 748.9,131.6 731.4,154.2" stroke-width="1.49"/>
<line x1="720.4" y1="154.6" x2="742.7" y2="154.6" stroke-width="1.35"/>
<text x="750.5" y="180.0" font-size="8.73" textLength="6.0" lengthAdjust="spacingAndGlyphs" font-weight="normal" stroke-width="0.3">2</text>
<polyline points="763.3,182.0 746.8,182.0 730.4,164.5" stroke-width="1.49"/>
<text x="658.4" y="189.1" font-size="10.14" textLength="5.9" lengthAdjust="spacingAndGlyphs" font-weight="normal" stroke-width="0.3">4</text>
<polyline points="582.2,166.5 649.4,189.1 664.7,189.1" stroke-width="1.49"/>
<line x1="649.4" y1="189.1" x2="667.0" y2="165.7" stroke-width="1.49"/>
<text x="506.0" y="185.1" font-size="10.14" textLength="52.7" lengthAdjust="spacingAndGlyphs" font-weight="normal" stroke-width="0.3">( ДЛЯ ПОЗ&#160;&#160;5)</text>
<text x="564.1" y="185.1" font-size="10.14" textLength="8.8" lengthAdjust="spacingAndGlyphs" font-weight="normal" stroke-width="0.3">15</text>
<text x="582.2" y="185.1" font-size="10.14" textLength="10.1" lengthAdjust="spacingAndGlyphs" font-weight="normal" stroke-width="0.3">65</text>
<line x1="511.8" y1="187.7" x2="595.7" y2="187.7" stroke-width="1.49"/>
<line x1="573.3" y1="189.5" x2="576.9" y2="185.9" stroke-width="1.62"/>
<line x1="592.7" y1="189.5" x2="596.3" y2="185.9" stroke-width="1.62"/>
<text x="506.7" y="201.2" font-size="10.99" textLength="53.3" lengthAdjust="spacingAndGlyphs" font-weight="normal" stroke-width="0.3">( ДЛЯ ПОЗ. 4)</text>
<text x="566.6" y="201.2" font-size="10.99" textLength="7.6" lengthAdjust="spacingAndGlyphs" font-weight="normal" stroke-width="0.3">20</text>
<line x1="511.8" y1="203.2" x2="586.7" y2="203.2" stroke-width="1.49"/>
<line x1="573.3" y1="205.0" x2="576.9" y2="201.4" stroke-width="1.62"/>
<line x1="578.4" y1="205.0" x2="582.0" y2="201.4" stroke-width="1.62"/>
<text x="505.8" y="219.2" font-size="12.68" textLength="51.7" lengthAdjust="spacingAndGlyphs" font-weight="normal" stroke-width="0.3">( ДЛЯ ПОЗ.2)</text>
<line x1="511.8" y1="220.5" x2="687.5" y2="220.5" stroke-width="1.49"/>
<line x1="573.3" y1="222.3" x2="576.9" y2="218.7" stroke-width="1.62"/>
<line x1="608.2" y1="222.3" x2="611.8" y2="218.7" stroke-width="1.62"/>
<line x1="683.1" y1="222.3" x2="686.7" y2="218.7" stroke-width="1.62"/>
<text x="582.3" y="218.0" font-size="9.15" textLength="16.4" lengthAdjust="spacingAndGlyphs" font-weight="normal" stroke-width="0.3">145</text>
<text x="579.6" y="230.1" font-size="9.86" textLength="21.8" lengthAdjust="spacingAndGlyphs" font-weight="normal" stroke-width="0.3">(170)</text>
<text x="625.0" y="218.0" font-size="9.15" textLength="25.4" lengthAdjust="spacingAndGlyphs" font-weight="normal" stroke-width="0.3">75×4</text>
<text x="623.6" y="230.1" font-size="9.86" textLength="30.7" lengthAdjust="spacingAndGlyphs" font-weight="normal" stroke-width="0.3">(75×3)</text>
<line x1="577.7" y1="175.0" x2="577.7" y2="190.8" stroke-width="1.22"/>
<line x1="580.2" y1="170.0" x2="580.2" y2="206.0" stroke-width="1.22"/>
<line x1="594.5" y1="170.0" x2="594.5" y2="189.5" stroke-width="1.22"/>
<line x1="610.0" y1="170.0" x2="610.0" y2="221.5" stroke-width="1.22"/>
<line x1="684.9" y1="170.0" x2="684.9" y2="225.7" stroke-width="1.22"/>
<line x1="568.1" y1="225.7" x2="568.1" y2="242.5" stroke-width="2.03"/>
<line x1="568.1" y1="238.1" x2="588.0" y2="238.1" stroke-width="1.76"/>
<text x="572.3" y="250.2" font-size="10.85" textLength="4.5" lengthAdjust="spacingAndGlyphs" font-weight="normal" stroke-width="0.3">1</text>
<line x1="603.0" y1="228.3" x2="603.0" y2="242.5" stroke-width="2.03"/>
<line x1="603.0" y1="238.1" x2="624.2" y2="238.1" stroke-width="1.76"/>
<text x="609.3" y="249.0" font-size="10.99" textLength="6.1" lengthAdjust="spacingAndGlyphs" font-weight="normal" stroke-width="0.3">2</text>
<line x1="701.7" y1="220.5" x2="701.7" y2="241.2" stroke-width="2.03"/>
<line x1="701.7" y1="237.3" x2="721.0" y2="237.3" stroke-width="1.76"/>
<text x="712.5" y="250.2" font-size="12.68" textLength="7.7" lengthAdjust="spacingAndGlyphs" font-weight="normal" stroke-width="0.3">3</text>
<text x="820.6" y="30.8" font-size="14.51" textLength="6.0" lengthAdjust="spacingAndGlyphs" font-weight="normal" stroke-width="0.3">1</text>
<line x1="835.5" y1="26.5" x2="840.4" y2="26.5" stroke-width="1.76"/>
<text x="846.4" y="30.8" font-size="14.51" textLength="5.7" lengthAdjust="spacingAndGlyphs" font-weight="normal" stroke-width="0.3">1</text>
<line x1="820.7" y1="32.3" x2="855.9" y2="32.3" stroke-width="1.76"/>
<line x1="798.5" y1="43.5" x2="816.3" y2="43.5" stroke-width="1.49"/>
<line x1="799.1" y1="45.7" x2="803.5" y2="41.3" stroke-width="1.62"/>
<line x1="812.2" y1="45.7" x2="816.6" y2="41.3" stroke-width="1.62"/>
<line x1="857.7" y1="43.5" x2="875.6" y2="43.5" stroke-width="1.49"/>
<line x1="857.4" y1="45.7" x2="861.8" y2="41.3" stroke-width="1.62"/>
<line x1="870.5" y1="45.7" x2="874.9" y2="41.3" stroke-width="1.62"/>
<text x="802.9" y="42.0" font-size="9.30" textLength="10.9" lengthAdjust="spacingAndGlyphs" font-weight="normal" stroke-width="0.3">55</text>
<text x="860.4" y="42.0" font-size="9.30" textLength="10.9" lengthAdjust="spacingAndGlyphs" font-weight="normal" stroke-width="0.3">55</text>
<line x1="801.3" y1="41.5" x2="801.3" y2="56.3" stroke-width="1.22"/>
<line x1="814.4" y1="41.5" x2="814.4" y2="58.2" stroke-width="1.22"/>
<line x1="859.6" y1="41.5" x2="859.6" y2="58.2" stroke-width="1.22"/>
<line x1="872.7" y1="41.5" x2="872.7" y2="56.3" stroke-width="1.22"/>
<polygon points="800.8,56.9 871.5,56.9 875.4,112.3 865.4,126.9 807.7,126.9 796.9,112.3" stroke-width="1.62"/>
<rect x="807.7" y="126.9" width="59.2" height="4.6" stroke-width="1.62"/>
<line x1="823.8" y1="58.2" x2="852.0" y2="58.2" stroke-width="1.35"/>
<line x1="815.4" y1="62.0" x2="858.6" y2="62.0" stroke-width="1.35"/>
<rect x="811.0" y="59.0" width="2.4" height="24.0" rx="1.2" stroke-width="1.0" fill="#fff"/>
<rect x="814.2" y="58.5" width="3.6" height="64.0" rx="1.2" stroke-width="1.0" fill="#fff"/>
<rect x="856.2" y="58.5" width="3.6" height="64.0" rx="1.2" stroke-width="1.0" fill="#fff"/>
<rect x="860.4" y="59.0" width="2.4" height="24.0" rx="1.2" stroke-width="1.0" fill="#fff"/>
<rect x="829.5" y="61" width="2.8" height="47" rx="1.2" stroke-width="1" fill="#9a9a9a"/>
<rect x="842.7" y="61" width="2.8" height="47" rx="1.2" stroke-width="1" fill="#9a9a9a"/>
<circle cx="818.2" cy="69.5" r="2.3" stroke-width="1.35"/>
<line x1="818.2" y1="69.5" x2="824.2" y2="69.5" stroke-width="1.08"/>
<circle cx="854.9" cy="69.5" r="2.3" stroke-width="1.35"/>
<line x1="854.9" y1="69.5" x2="860.9" y2="69.5" stroke-width="1.08"/>
<circle cx="826.7" cy="124.5" r="2.3" stroke-width="1.35"/>
<line x1="822.7" y1="124.0" x2="830.7" y2="124.0" stroke-width="1.08"/>
<line x1="826.7" y1="119.0" x2="826.7" y2="129.0" stroke-width="0.94"/>
<circle cx="846.4" cy="124.5" r="2.3" stroke-width="1.35"/>
<line x1="842.4" y1="124.0" x2="850.4" y2="124.0" stroke-width="1.08"/>
<line x1="846.4" y1="119.0" x2="846.4" y2="129.0" stroke-width="0.94"/>
<line x1="837.4" y1="47.0" x2="837.4" y2="143.0" stroke-width="1.22" stroke-dasharray="12,2,2,2"/>
<text x="884.1" y="69.0" font-size="11.55" textLength="4.4" lengthAdjust="spacingAndGlyphs" font-weight="normal" stroke-width="0.3">1</text>
<polyline points="895.5,70.5 879.6,70.5 860.6,102.8" stroke-width="1.49"/>
<line x1="804.0" y1="165.6" x2="869.0" y2="165.6" stroke-width="1.49"/>
<line x1="805.4" y1="167.8" x2="809.8" y2="163.4" stroke-width="1.62"/>
<line x1="864.4" y1="167.8" x2="868.8" y2="163.4" stroke-width="1.62"/>
<line x1="807.6" y1="139.4" x2="807.6" y2="167.5" stroke-width="1.22"/>
<line x1="866.6" y1="139.4" x2="866.6" y2="167.5" stroke-width="1.22"/>
<text x="827.3" y="162.6" font-size="10.14" textLength="15.5" lengthAdjust="spacingAndGlyphs" font-weight="normal" stroke-width="0.3">240</text>
<text x="578.0" y="266.8" font-size="15.49" textLength="7.6" lengthAdjust="spacingAndGlyphs" font-weight="normal" stroke-width="0.3">2</text>
<line x1="592.8" y1="261.3" x2="597.3" y2="261.3" stroke-width="1.76"/>
<text x="602.2" y="266.8" font-size="15.49" textLength="8.0" lengthAdjust="spacingAndGlyphs" font-weight="normal" stroke-width="0.3">2</text>
<line x1="575.0" y1="269.0" x2="613.1" y2="269.0" stroke-width="1.89"/>
<polygon points="565.7,289.1 637.4,289.1 641.7,345.0 674.6,345.0 667.1,400.8 539.8,400.8 535.0,346.0 563.3,346.0" stroke-width="1.35"/>
<path d="M541,352.5 Q538.5,352.5 538.5,355 L538.5,393 Q538.5,397.5 543,397.5 L664,397.5 Q668,397.5 668,393 L668,355 Q668,351.5 664.5,351.5 L541,351.5" stroke-width="1.1"/>
<path d="M543,354.5 L543,392 Q543,394.8 546,394.8 L661,394.8 Q664.5,394.8 664.5,392 L664.5,354.5 L543,354.5" stroke-width="1.0"/>
<line x1="545.5" y1="357.0" x2="545.5" y2="372.0" stroke-width="1.22"/>
<line x1="661.5" y1="357.0" x2="661.5" y2="372.0" stroke-width="1.22"/>
<path d="M576.4,385 L576.4,296 Q576.4,292.7 579.5,292.7 L626,292.7 Q629.5,292.7 629.5,296 L629.5,385" stroke-width="1.1"/>
<path d="M579.5,385 L579.5,298 Q579.5,295.3 582,295.3 L624,295.3 Q626.6,295.3 626.6,298 L626.6,385" stroke-width="1.0"/>
<rect x="574.0" y="296.0" width="2.4" height="26.0" rx="1.2" stroke-width="1.0" fill="#fff"/>
<rect x="629.5" y="296.0" width="2.3" height="26.0" rx="1.2" stroke-width="1.0" fill="#fff"/>
<circle cx="584.3" cy="299.2" r="2.4" stroke-width="1.35"/>
<circle cx="621.9" cy="299.2" r="2.4" stroke-width="1.35"/>
<circle cx="591.5" cy="359.7" r="2.8" stroke-width="1.35"/>
<line x1="587.0" y1="359.7" x2="596.0" y2="359.7" stroke-width="1.08"/>
<line x1="591.5" y1="355.0" x2="591.5" y2="364.5" stroke-width="1.08"/>
<circle cx="612.3" cy="359.7" r="2.8" stroke-width="1.35"/>
<line x1="607.8" y1="359.7" x2="616.8" y2="359.7" stroke-width="1.08"/>
<line x1="612.3" y1="355.0" x2="612.3" y2="364.5" stroke-width="1.08"/>
<circle cx="555.6" cy="387.2" r="2.8" stroke-width="1.35"/>
<line x1="551.1" y1="387.2" x2="560.1" y2="387.2" stroke-width="1.08"/>
<line x1="555.6" y1="382.5" x2="555.6" y2="391.5" stroke-width="1.08"/>
<circle cx="570.4" cy="387.2" r="2.8" stroke-width="1.35"/>
<line x1="565.9" y1="387.2" x2="574.9" y2="387.2" stroke-width="1.08"/>
<line x1="570.4" y1="382.5" x2="570.4" y2="391.5" stroke-width="1.08"/>
<circle cx="583.6" cy="387.2" r="2.8" stroke-width="1.35"/>
<line x1="579.1" y1="387.2" x2="588.1" y2="387.2" stroke-width="1.08"/>
<line x1="583.6" y1="382.5" x2="583.6" y2="391.5" stroke-width="1.08"/>
<circle cx="623.1" cy="387.2" r="2.8" stroke-width="1.35"/>
<line x1="618.6" y1="387.2" x2="627.6" y2="387.2" stroke-width="1.08"/>
<line x1="623.1" y1="382.5" x2="623.1" y2="391.5" stroke-width="1.08"/>
<circle cx="633.8" cy="387.2" r="2.8" stroke-width="1.35"/>
<line x1="629.3" y1="387.2" x2="638.3" y2="387.2" stroke-width="1.08"/>
<line x1="633.8" y1="382.5" x2="633.8" y2="391.5" stroke-width="1.08"/>
<circle cx="649.4" cy="387.2" r="2.8" stroke-width="1.35"/>
<line x1="644.9" y1="387.2" x2="653.9" y2="387.2" stroke-width="1.08"/>
<line x1="649.4" y1="382.5" x2="649.4" y2="391.5" stroke-width="1.08"/>
<rect x="572.8" y="393.2" width="59.8" height="2.4" stroke-width="1.35"/>
<path d="M548.6,395 L554.3,367.5 Q556.1,364 557.9,367.5 L563.6,395" stroke-width="1.1"/>
<path d="M644.3,395 L650.0,367.5 Q651.8,364 653.6,367.5 L659.3,395" stroke-width="1.1"/>
<line x1="602.7" y1="274.0" x2="602.7" y2="406.0" stroke-width="1.22" stroke-dasharray="12,2,2,2"/>
<text x="595.8" y="285.7" font-size="6.34" textLength="8.7" lengthAdjust="spacingAndGlyphs" text-anchor="middle" font-weight="normal" transform="rotate(-90 595.8 283.4)" stroke-width="0.3">15</text>
<line x1="598.0" y1="280.0" x2="598.0" y2="292.0" stroke-width="1.08"/>
<line x1="554.9" y1="274.8" x2="554.9" y2="302.0" stroke-width="1.49"/>
<line x1="552.7" y1="291.3" x2="557.1" y2="286.9" stroke-width="1.62"/>
<line x1="552.7" y1="301.4" x2="557.1" y2="297.0" stroke-width="1.62"/>
<line x1="550.0" y1="289.1" x2="565.7" y2="289.1" stroke-width="1.22"/>
<line x1="550.0" y1="299.2" x2="560.0" y2="299.2" stroke-width="1.22"/>
<text x="548.5" y="284.2" font-size="11.41" textLength="12.5" lengthAdjust="spacingAndGlyphs" text-anchor="middle" font-weight="normal" transform="rotate(-90 548.5 280.2)" stroke-width="0.3">50</text>
<text transform="translate(504.3 307.8) scale(0.6 1)" x="0" y="0" font-size="8.14" textLength="79.3" lengthAdjust="spacing" font-weight="bold" stroke-width="0.3">ПРИВЯЗАТЬ</text>
<text transform="translate(497.0 319.1) scale(0.6 1)" x="0" y="0" font-size="8.00" textLength="78.0" lengthAdjust="spacing" font-weight="bold" stroke-width="0.3">ВЯЗАЛЬНОЙ</text>
<text transform="translate(497.7 327.3) scale(0.6 1)" x="0" y="0" font-size="9.29" textLength="94.4" lengthAdjust="spacing" font-weight="bold" stroke-width="0.3">ПРОВОЛОКОЙ</text>
<polyline points="498.0,310.2 553.3,310.2 576.0,350.0" stroke-width="1.49"/>
<text x="622.4" y="271.0" font-size="9.86" textLength="5.0" lengthAdjust="spacingAndGlyphs" font-weight="normal" stroke-width="0.3">4</text>
<polyline points="630.0,274.0 616.4,274.0 609.6,294.5" stroke-width="1.49"/>
<text x="672.7" y="326.2" font-size="10.14" textLength="5.7" lengthAdjust="spacingAndGlyphs" font-weight="normal" stroke-width="0.3">5</text>
<polyline points="684.0,327.4 659.0,327.4 651.8,349.0" stroke-width="1.49"/>
<text x="510.0" y="374.6" font-size="9.01" textLength="4.8" lengthAdjust="spacingAndGlyphs" font-weight="normal" stroke-width="0.3">6</text>
<line x1="508.0" y1="375.9" x2="659.0" y2="375.9" stroke-width="1.35"/>
<text x="693.8" y="368.6" font-size="10.70" textLength="5.8" lengthAdjust="spacingAndGlyphs" font-weight="normal" stroke-width="0.3">4</text>
<polyline points="699.1,370.4 685.9,370.4 657.7,390.2" stroke-width="1.49"/>
<text x="517.6" y="341.0" font-size="6.76" textLength="8.8" lengthAdjust="spacingAndGlyphs" text-anchor="middle" font-weight="normal" transform="rotate(-90 517.6 338.6)" stroke-width="0.3">15</text>
<line x1="521.3" y1="340.5" x2="521.3" y2="355.0" stroke-width="1.49"/>
<line x1="519.1" y1="349.9" x2="523.5" y2="345.5" stroke-width="1.62"/>
<line x1="519.1" y1="352.5" x2="523.5" y2="348.1" stroke-width="1.62"/>
<line x1="518.0" y1="347.7" x2="531.0" y2="347.7" stroke-width="1.08"/>
<line x1="518.0" y1="350.3" x2="531.0" y2="350.3" stroke-width="1.08"/>
<text x="689.5" y="396.6" font-size="8.45" textLength="11.5" lengthAdjust="spacingAndGlyphs" text-anchor="middle" font-weight="normal" transform="rotate(-90 689.5 393.6)" stroke-width="0.3">55</text>
<line x1="695.3" y1="384.5" x2="695.3" y2="407.1" stroke-width="1.49"/>
<line x1="693.1" y1="389.6" x2="697.5" y2="385.2" stroke-width="1.62"/>
<line x1="693.1" y1="403.3" x2="697.5" y2="398.9" stroke-width="1.62"/>
<line x1="672.8" y1="387.4" x2="702.8" y2="387.4" stroke-width="1.22"/>
<line x1="671.8" y1="401.1" x2="702.8" y2="401.1" stroke-width="1.22"/>
<text x="529.7" y="416.2" font-size="9.30" textLength="9.1" lengthAdjust="spacingAndGlyphs" font-weight="normal" stroke-width="0.3">15</text>
<line x1="528.5" y1="417.0" x2="545.1" y2="417.0" stroke-width="1.35"/>
<line x1="540.8" y1="405.0" x2="540.8" y2="418.5" stroke-width="1.08"/>
<line x1="539.3" y1="418.5" x2="542.3" y2="415.5" stroke-width="1.62"/>
<line x1="543.3" y1="405.0" x2="543.3" y2="418.5" stroke-width="1.08"/>
<line x1="541.8" y1="418.5" x2="544.8" y2="415.5" stroke-width="1.62"/>
<line x1="534.4" y1="433.4" x2="670.9" y2="433.4" stroke-width="1.49"/>
<line x1="538.6" y1="435.6" x2="543.0" y2="431.2" stroke-width="1.62"/>
<line x1="554.0" y1="435.6" x2="558.4" y2="431.2" stroke-width="1.62"/>
<line x1="569.3" y1="435.6" x2="573.7" y2="431.2" stroke-width="1.62"/>
<line x1="632.0" y1="435.6" x2="636.4" y2="431.2" stroke-width="1.62"/>
<line x1="647.0" y1="435.6" x2="651.4" y2="431.2" stroke-width="1.62"/>
<line x1="664.0" y1="435.6" x2="668.4" y2="431.2" stroke-width="1.62"/>
<line x1="540.8" y1="404.0" x2="540.8" y2="436.0" stroke-width="1.22"/>
<line x1="556.2" y1="404.0" x2="556.2" y2="436.0" stroke-width="1.22"/>
<line x1="571.5" y1="404.0" x2="571.5" y2="436.0" stroke-width="1.22"/>
<line x1="634.2" y1="404.0" x2="634.2" y2="436.0" stroke-width="1.22"/>
<line x1="649.2" y1="404.0" x2="649.2" y2="436.0" stroke-width="1.22"/>
<line x1="666.2" y1="404.0" x2="666.2" y2="436.0" stroke-width="1.22"/>
<text x="542.8" y="432.3" font-size="11.69" textLength="10.5" lengthAdjust="spacingAndGlyphs" font-weight="normal" stroke-width="0.3">65</text>
<text x="557.3" y="432.3" font-size="11.69" textLength="10.2" lengthAdjust="spacingAndGlyphs" font-weight="normal" stroke-width="0.3">65</text>
<text x="588.3" y="432.3" font-size="11.69" textLength="18.2" lengthAdjust="spacingAndGlyphs" font-weight="normal" stroke-width="0.3">260</text>
<text x="634.8" y="432.3" font-size="11.69" textLength="10.7" lengthAdjust="spacingAndGlyphs" font-weight="normal" stroke-width="0.3">65</text>
<text x="651.3" y="432.3" font-size="11.69" textLength="10.7" lengthAdjust="spacingAndGlyphs" font-weight="normal" stroke-width="0.3">65</text>
<text x="824.5" y="265.2" font-size="15.07" textLength="6.7" lengthAdjust="spacingAndGlyphs" font-weight="normal" stroke-width="0.3">3</text>
<line x1="839.2" y1="260.0" x2="843.5" y2="260.0" stroke-width="1.76"/>
<text x="849.9" y="265.2" font-size="14.51" textLength="6.7" lengthAdjust="spacingAndGlyphs" font-weight="normal" stroke-width="0.3">3</text>
<line x1="820.2" y1="267.0" x2="860.3" y2="267.0" stroke-width="1.89"/>
<polygon points="803.9,287.0 875.4,287.0 878.9,344.3 910.5,344.3 904.3,397.4 903.0,398.5 777.8,398.5 777.3,397.4 770.4,344.3 802.7,344.3" stroke-width="1.35"/>
<rect x="809.6" y="293.5" width="57.8" height="2.3" stroke-width="1.35"/>
<rect x="815.4" y="288.9" width="2.3" height="108.1" rx="1.2" stroke-width="1.0" fill="#fff"/>
<rect x="859.7" y="288.9" width="2.3" height="108.1" rx="1.2" stroke-width="1.0" fill="#fff"/>
<circle cx="821.2" cy="300.0" r="2.4" stroke-width="1.35"/>
<line x1="821.2" y1="296.0" x2="821.2" y2="306.0" stroke-width="0.94"/>
<circle cx="855.8" cy="300.0" r="2.4" stroke-width="1.35"/>
<line x1="855.8" y1="296.0" x2="855.8" y2="306.0" stroke-width="0.94"/>
<line x1="812.0" y1="300.5" x2="827.0" y2="300.5" stroke-width="1.08"/>
<line x1="848.0" y1="300.5" x2="864.0" y2="300.5" stroke-width="1.08"/>
<rect x="772.7" y="348.4" width="135.1" height="2.8" stroke-width="1.35"/>
<circle cx="775.0" cy="349.5" r="1.6" stroke-width="1.22"/>
<circle cx="905.5" cy="349.5" r="1.6" stroke-width="1.22"/>
<path d="M779.6,351.2 L779.6,389 Q779.6,395.1 786,395.1 L896,395.1 Q902,395.1 902,389 L902,351.2" stroke-width="1.1"/>
<path d="M781.9,351.2 L781.9,388 Q781.9,392.8 787,392.8 L895,392.8 Q899.7,392.8 899.7,388 L899.7,351.2" stroke-width="1.0"/>
<circle cx="829.3" cy="357.7" r="2.8" stroke-width="1.35"/>
<line x1="824.8" y1="357.7" x2="833.8" y2="357.7" stroke-width="1.08"/>
<line x1="829.3" y1="353.0" x2="829.3" y2="362.5" stroke-width="1.08"/>
<circle cx="848.9" cy="357.7" r="2.8" stroke-width="1.35"/>
<line x1="844.4" y1="357.7" x2="853.4" y2="357.7" stroke-width="1.08"/>
<line x1="848.9" y1="353.0" x2="848.9" y2="362.5" stroke-width="1.08"/>
<circle cx="793.5" cy="384.0" r="2.8" stroke-width="1.35"/>
<line x1="789.0" y1="384.0" x2="798.0" y2="384.0" stroke-width="1.08"/>
<line x1="793.5" y1="379.0" x2="793.5" y2="389.0" stroke-width="1.08"/>
<circle cx="808.0" cy="384.0" r="2.8" stroke-width="1.35"/>
<line x1="803.5" y1="384.0" x2="812.5" y2="384.0" stroke-width="1.08"/>
<line x1="808.0" y1="379.0" x2="808.0" y2="389.0" stroke-width="1.08"/>
<circle cx="822.3" cy="384.0" r="2.8" stroke-width="1.35"/>
<line x1="817.8" y1="384.0" x2="826.8" y2="384.0" stroke-width="1.08"/>
<line x1="822.3" y1="379.0" x2="822.3" y2="389.0" stroke-width="1.08"/>
<circle cx="857.0" cy="384.0" r="2.8" stroke-width="1.35"/>
<line x1="852.5" y1="384.0" x2="861.5" y2="384.0" stroke-width="1.08"/>
<line x1="857.0" y1="379.0" x2="857.0" y2="389.0" stroke-width="1.08"/>
<circle cx="871.3" cy="384.0" r="2.8" stroke-width="1.35"/>
<line x1="866.8" y1="384.0" x2="875.8" y2="384.0" stroke-width="1.08"/>
<line x1="871.3" y1="379.0" x2="871.3" y2="389.0" stroke-width="1.08"/>
<circle cx="886.5" cy="384.0" r="2.8" stroke-width="1.35"/>
<line x1="882.0" y1="384.0" x2="891.0" y2="384.0" stroke-width="1.08"/>
<line x1="886.5" y1="379.0" x2="886.5" y2="389.0" stroke-width="1.08"/>
<circle cx="796.5" cy="391.6" r="1.8" stroke-width="1.22"/>
<circle cx="880.1" cy="391.6" r="1.8" stroke-width="1.22"/>
<rect x="812.0" y="388.1" width="55.4" height="3.5" stroke-width="1.35"/>
<line x1="839.7" y1="281.4" x2="839.7" y2="415.8" stroke-width="1.22" stroke-dasharray="12,2,2,2"/>
<line x1="785.9" y1="284.2" x2="785.9" y2="303.9" stroke-width="1.49"/>
<line x1="783.7" y1="289.2" x2="788.1" y2="284.8" stroke-width="1.62"/>
<line x1="783.7" y1="302.2" x2="788.1" y2="297.8" stroke-width="1.62"/>
<line x1="784.2" y1="287.0" x2="797.0" y2="287.0" stroke-width="1.22"/>
<line x1="782.0" y1="300.9" x2="817.7" y2="300.9" stroke-width="1.22"/>
<text x="777.9" y="298.1" font-size="8.17" textLength="8.8" lengthAdjust="spacingAndGlyphs" text-anchor="middle" font-weight="normal" transform="rotate(-90 777.9 295.2)" stroke-width="0.3">50</text>
<text x="764.0" y="316.6" font-size="9.86" textLength="6.8" lengthAdjust="spacingAndGlyphs" font-weight="normal" stroke-width="0.3">3</text>
<polyline points="760.0,317.7 783.1,317.7 794.6,348.9" stroke-width="1.49"/>
<text x="903.4" y="316.2" font-size="10.42" textLength="7.7" lengthAdjust="spacingAndGlyphs" font-weight="normal" stroke-width="0.3">3</text>
<polyline points="914.7,316.7 898.8,316.7 888.2,348.6" stroke-width="1.49"/>
<text x="907.3" y="283.6" font-size="11.27" textLength="5.1" lengthAdjust="spacingAndGlyphs" font-weight="normal" stroke-width="0.3">1</text>
<polyline points="920.0,284.9 902.7,284.9 861.6,327.3" stroke-width="1.49"/>
<text x="762.9" y="329.4" font-size="7.61" textLength="5.2" lengthAdjust="spacingAndGlyphs" font-weight="normal" stroke-width="0.3">5</text>
<line x1="761.6" y1="330.3" x2="775.0" y2="330.3" stroke-width="1.22"/>
<line x1="770.5" y1="326.7" x2="770.5" y2="340.1" stroke-width="1.08"/>
<line x1="772.3" y1="326.7" x2="772.3" y2="340.1" stroke-width="1.08"/>
<text x="750.8" y="356.3" font-size="7.61" textLength="8.0" lengthAdjust="spacingAndGlyphs" text-anchor="middle" font-weight="normal" transform="rotate(-90 750.8 353.6)" stroke-width="0.3">15</text>
<line x1="755.3" y1="340.0" x2="755.3" y2="358.0" stroke-width="1.49"/>
<line x1="753.1" y1="347.7" x2="757.5" y2="343.3" stroke-width="1.62"/>
<line x1="753.1" y1="351.3" x2="757.5" y2="346.9" stroke-width="1.62"/>
<line x1="754.4" y1="345.5" x2="764.2" y2="345.5" stroke-width="1.08"/>
<line x1="754.4" y1="349.1" x2="764.2" y2="349.1" stroke-width="1.08"/>
<text x="750.8" y="392.7" font-size="7.61" textLength="8.8" lengthAdjust="spacingAndGlyphs" text-anchor="middle" font-weight="normal" transform="rotate(-90 750.8 390.0)" stroke-width="0.3">15</text>
<line x1="755.3" y1="384.2" x2="755.3" y2="403.0" stroke-width="1.49"/>
<line x1="753.1" y1="398.9" x2="757.5" y2="394.5" stroke-width="1.62"/>
<line x1="753.1" y1="401.6" x2="757.5" y2="397.2" stroke-width="1.62"/>
<line x1="754.4" y1="396.7" x2="773.2" y2="396.7" stroke-width="1.08"/>
<line x1="754.4" y1="399.4" x2="773.2" y2="399.4" stroke-width="1.08"/>
<text x="765.5" y="416.5" font-size="7.61" textLength="8.0" lengthAdjust="spacingAndGlyphs" font-weight="normal" stroke-width="0.3">10</text>
<line x1="765.0" y1="418.3" x2="781.3" y2="418.3" stroke-width="1.22"/>
<line x1="776.8" y1="401.2" x2="776.8" y2="419.2" stroke-width="1.08"/>
<line x1="775.4" y1="419.7" x2="778.2" y2="416.9" stroke-width="1.62"/>
<line x1="778.6" y1="401.2" x2="778.6" y2="419.2" stroke-width="1.08"/>
<line x1="777.2" y1="419.7" x2="780.0" y2="416.9" stroke-width="1.62"/>
<text x="900.8" y="413.5" font-size="9.30" textLength="6.2" lengthAdjust="spacingAndGlyphs" font-weight="normal" stroke-width="0.3">2</text>
<polyline points="912.0,414.9 896.0,414.9 885.5,393.6" stroke-width="1.49"/>
</g></svg></body></html>
